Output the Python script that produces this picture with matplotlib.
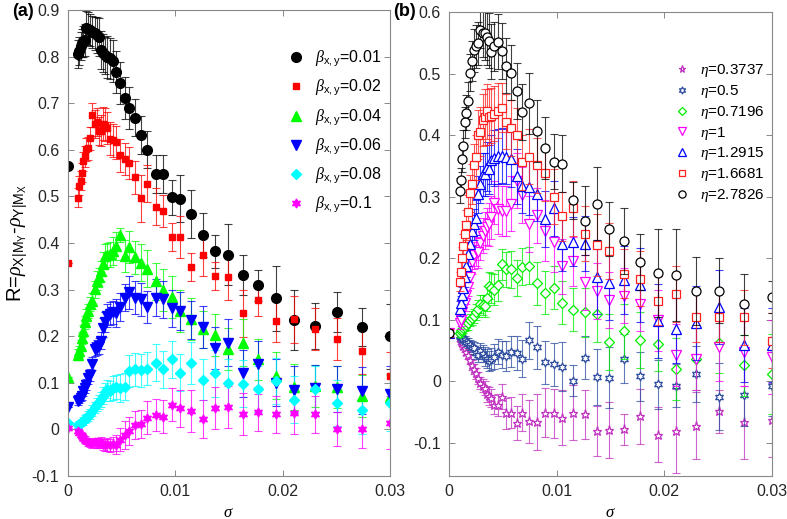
import matplotlib
matplotlib.use("Agg")
import matplotlib.pyplot as plt
from matplotlib.ticker import FuncFormatter
import numpy as np

plt.rcParams['font.family'] = ['Liberation Sans', 'DejaVu Sans']
plt.rcParams['mathtext.fontset'] = 'custom'
plt.rcParams['mathtext.rm'] = 'Liberation Sans'
plt.rcParams['mathtext.it'] = 'Liberation Serif:italic'
plt.rcParams['mathtext.bf'] = 'Liberation Sans:bold'
plt.rcParams['mathtext.sf'] = 'Liberation Sans'

# shared sigma grid
sigma = [0, 0.0010, 0.0011, 0.0012, 0.0013, 0.00145, 0.0016, 0.00175, 0.0019, 0.0021,
         0.0023, 0.0025, 0.0027, 0.0029, 0.0031, 0.0033, 0.0035, 0.0037, 0.0039, 0.0042,
         0.0045, 0.0049, 0.0053, 0.0057, 0.0063, 0.0068, 0.0074, 0.0082, 0.0089, 0.0097,
         0.0105, 0.0115, 0.0126, 0.0137, 0.0149, 0.0163, 0.0177, 0.0194, 0.0211, 0.0230,
         0.0251, 0.0274, 0.0300]

# ---- panel (a): beta_x,y ----
beta_labels = ['0.01', '0.02', '0.04', '0.06', '0.08', '0.1']

a_b001 = [0.566, 0.806, 0.812, 0.822, 0.830, 0.833, 0.836, 0.862, 0.860, 0.857,
          0.853, 0.850, 0.846, 0.842, 0.814, 0.808, 0.803, 0.800, 0.796, 0.790,
          0.767, 0.743, 0.712, 0.690, 0.669, 0.632, 0.600, 0.548, 0.548, 0.498,
          0.495, 0.462, 0.418, 0.382, 0.375, 0.331, 0.309, 0.281, 0.235, 0.222,
          0.251, 0.220, 0.200]
e_b001 = [0, 0.03, 0.03, 0.03, 0.03, 0.033, 0.035, 0.035, 0.035, 0.035,
          0.035, 0.035, 0.038, 0.04, 0.04, 0.04, 0.04, 0.045, 0.045, 0.045,
          0.045, 0.045, 0.045, 0.045, 0.04, 0.04, 0.04, 0.04, 0.04, 0.038,
          0.05, 0.052, 0.047, 0.036, 0.065, 0.043, 0.033, 0.07, 0.065, 0.05,
          0.043, 0.04, 0.07]

a_b002 = [0.357, 0.497, 0.523, 0.534, 0.551, 0.575, 0.586, 0.601, 0.603, 0.625,
          0.675, 0.656, 0.659, 0.641, 0.641, 0.656, 0.654, 0.647, 0.624, 0.620,
          0.616, 0.588, 0.580, 0.572, 0.541, 0.496, 0.527, 0.478, 0.469, 0.413,
          0.413, 0.348, 0.374, 0.330, 0.327, 0.249, 0.278, 0.233, 0.236, 0.215,
          0.194, 0.168, 0.115]
e_b002 = [0, 0.02, 0.02, 0.02, 0.02, 0.02, 0.022, 0.025, 0.025, 0.025,
          0.025, 0.03, 0.03, 0.03, 0.033, 0.035, 0.035, 0.035, 0.035, 0.035,
          0.035, 0.035, 0.035, 0.035, 0.035, 0.05, 0.04, 0.04, 0.035, 0.03,
          0.045, 0.03, 0.045, 0.03, 0.05, 0.05, 0.035, 0.045, 0.05, 0.045,
          0.045, 0.05, 0.05]

a_b004 = [0.113, 0.160, 0.168, 0.180, 0.197, 0.212, 0.230, 0.244, 0.255, 0.269,
          0.276, 0.301, 0.319, 0.326, 0.340, 0.355, 0.372, 0.374, 0.376, 0.383,
          0.394, 0.418, 0.372, 0.391, 0.369, 0.358, 0.345, 0.318, 0.300, 0.285,
          0.255, 0.237, 0.215, 0.203, 0.173, 0.186, 0.150, 0.115, 0.091, 0.093,
          0.091, 0.072, 0.069]
e_b004 = [0, 0.012, 0.012, 0.012, 0.013, 0.013, 0.014, 0.015, 0.015, 0.016,
          0.017, 0.018, 0.02, 0.02, 0.022, 0.025, 0.025, 0.025, 0.027, 0.03,
          0.03, 0.015, 0.035, 0.035, 0.035, 0.04, 0.04, 0.04, 0.045, 0.045,
          0.045, 0.045, 0.04, 0.045, 0.045, 0.05, 0.045, 0.05, 0.05, 0.045,
          0.045, 0.045, 0.05]

a_b006 = [0.047, 0.061, 0.064, 0.068, 0.071, 0.082, 0.089, 0.096, 0.110, 0.117,
          0.141, 0.172, 0.175, 0.179, 0.190, 0.218, 0.230, 0.244, 0.248, 0.251,
          0.250, 0.262, 0.283, 0.294, 0.283, 0.279, 0.263, 0.283, 0.279, 0.260,
          0.254, 0.235, 0.220, 0.175, 0.186, 0.120, 0.140, 0.100, 0.085, 0.088,
          0.087, 0.083, 0.077]
e_b006 = [0, 0.008, 0.008, 0.008, 0.009, 0.01, 0.01, 0.012, 0.012, 0.013,
          0.014, 0.015, 0.016, 0.017, 0.018, 0.02, 0.022, 0.025, 0.025, 0.025,
          0.03, 0.03, 0.03, 0.035, 0.035, 0.035, 0.035, 0.04, 0.04, 0.04,
          0.04, 0.04, 0.045, 0.045, 0.05, 0.05, 0.05, 0.05, 0.05, 0.05,
          0.05, 0.05, 0.06]

a_b008 = [0.014, 0.010, 0.012, 0.014, 0.016, 0.018, 0.022, 0.025, 0.029, 0.033,
          0.040, 0.047, 0.054, 0.058, 0.065, 0.072, 0.080, 0.087, 0.082, 0.089,
          0.091, 0.089, 0.092, 0.125, 0.129, 0.127, 0.130, 0.143, 0.129, 0.150,
          0.122, 0.143, 0.107, 0.120, 0.100, 0.098, 0.087, 0.104, 0.064, 0.087,
          0.057, 0.041, 0.057]
e_b008 = [0, 0.006, 0.006, 0.007, 0.007, 0.008, 0.008, 0.009, 0.01, 0.01,
          0.012, 0.012, 0.014, 0.015, 0.016, 0.018, 0.02, 0.02, 0.022, 0.025,
          0.025, 0.03, 0.03, 0.035, 0.035, 0.035, 0.035, 0.04, 0.04, 0.04,
          0.04, 0.045, 0.045, 0.05, 0.05, 0.05, 0.05, 0.05, 0.05, 0.05,
          0.05, 0.05, 0.06]

a_b01 = [0.003, -0.004, -0.007, -0.011, -0.014, -0.018, -0.022, -0.025, -0.027, -0.029,
         -0.030, -0.028, -0.029, -0.030, -0.029, -0.032, -0.033, -0.032, -0.034, -0.031,
         -0.033, -0.022, -0.012, -0.004, 0.009, 0.012, 0.025, 0.031, 0.027, 0.053,
         0.045, 0.040, 0.022, 0.046, 0.048, 0.033, 0.037, 0.032, 0.035, 0.032,
         0.001, 0.001, 0.014]
e_b01 = [0, 0.004, 0.005, 0.005, 0.006, 0.006, 0.007, 0.007, 0.008, 0.008,
         0.009, 0.01, 0.01, 0.011, 0.012, 0.012, 0.013, 0.014, 0.014, 0.015,
         0.02, 0.025, 0.03, 0.03, 0.03, 0.03, 0.035, 0.035, 0.035, 0.035,
         0.04, 0.045, 0.04, 0.045, 0.045, 0.045, 0.04, 0.04, 0.045, 0.04,
         0.037, 0.04, 0.057]

# ---- panel (b): eta ----
eta_labels = ['0.3737', '0.5', '0.7196', '1', '1.2915', '1.6681', '2.7826']

b_e03737 = [0.078, 0.070, 0.066, 0.063, 0.058, 0.054, 0.048, 0.043, 0.035, 0.027,
            0.020, 0.013, 0.005, -0.003, -0.007, -0.011, -0.020, -0.024, -0.027, -0.038,
            -0.038, -0.025, -0.052, -0.051, -0.068, -0.051, -0.065, -0.066, -0.051, -0.052,
            -0.059, -0.051, -0.054, -0.081, -0.079, -0.078, -0.057, -0.087, -0.081, -0.072,
            -0.049, -0.067, -0.063]
f_e03737 = [0.005, 0.005, 0.005, 0.005, 0.006, 0.006, 0.006, 0.007, 0.007, 0.008,
            0.008, 0.009, 0.01, 0.01, 0.011, 0.012, 0.013, 0.014, 0.015, 0.016,
            0.018, 0.02, 0.025, 0.025, 0.028, 0.03, 0.035, 0.045, 0.04, 0.04,
            0.045, 0.045, 0.04, 0.04, 0.045, 0.025, 0.045, 0.045, 0.068, 0.055,
            0.035, 0.06, 0.06]

b_e05 = [0.078, 0.074, 0.072, 0.070, 0.068, 0.067, 0.064, 0.062, 0.059, 0.056,
         0.054, 0.046, 0.043, 0.050, 0.045, 0.040, 0.037, 0.033, 0.036, 0.040,
         0.048, 0.043, 0.041, 0.048, 0.046, 0.037, 0.067, 0.055, 0.031, 0.028,
         0.024, 0.001, 0.038, 0.007, 0.006, 0.037, 0.008, -0.005, -0.007, 0.012,
         -0.025, -0.023, -0.007]
f_e05 = [0.005, 0.005, 0.005, 0.006, 0.006, 0.007, 0.007, 0.008, 0.008, 0.009,
         0.01, 0.01, 0.012, 0.013, 0.014, 0.015, 0.016, 0.017, 0.018, 0.02,
         0.02, 0.022, 0.025, 0.025, 0.028, 0.03, 0.03, 0.035, 0.035, 0.035,
         0.04, 0.025, 0.035, 0.045, 0.05, 0.04, 0.04, 0.04, 0.035, 0.045,
         0.055, 0.05, 0.05]

b_e07196 = [0.078, 0.078, 0.081, 0.084, 0.086, 0.089, 0.092, 0.094, 0.100, 0.103,
            0.106, 0.113, 0.118, 0.126, 0.124, 0.122, 0.135, 0.155, 0.152, 0.149,
            0.156, 0.190, 0.182, 0.182, 0.168, 0.186, 0.188, 0.159, 0.144, 0.152,
            0.128, 0.116, 0.112, 0.109, 0.064, 0.081, 0.067, 0.061, 0.020, 0.036,
            0.063, 0.026, 0.012]
f_e07196 = [0.005, 0.006, 0.006, 0.007, 0.008, 0.008, 0.009, 0.01, 0.01, 0.011,
            0.012, 0.013, 0.014, 0.015, 0.016, 0.018, 0.02, 0.022, 0.024, 0.025,
            0.025, 0.025, 0.028, 0.03, 0.03, 0.03, 0.03, 0.035, 0.035, 0.035,
            0.035, 0.035, 0.04, 0.045, 0.045, 0.045, 0.045, 0.045, 0.05, 0.05,
            0.05, 0.05, 0.065]

b_e1 = [0.078, 0.095, 0.100, 0.113, 0.120, 0.127, 0.140, 0.154, 0.170, 0.194,
        0.205, 0.213, 0.210, 0.225, 0.237, 0.245, 0.251, 0.255, 0.267, 0.290,
        0.280, 0.277, 0.277, 0.289, 0.326, 0.303, 0.256, 0.270, 0.245, 0.227,
        0.187, 0.195, 0.161, 0.147, 0.132, 0.139, 0.126, 0.099, 0.043, 0.036,
        0.056, 0.048, 0.040]
f_e1 = [0.005, 0.01, 0.01, 0.012, 0.012, 0.013, 0.014, 0.016, 0.018, 0.02,
        0.022, 0.025, 0.025, 0.027, 0.028, 0.03, 0.03, 0.035, 0.035, 0.035,
        0.04, 0.04, 0.04, 0.045, 0.045, 0.045, 0.045, 0.045, 0.05, 0.05,
        0.045, 0.04, 0.045, 0.045, 0.045, 0.045, 0.045, 0.05, 0.05, 0.05,
        0.055, 0.055, 0.06]

b_e12915 = [0.078, 0.118, 0.127, 0.140, 0.152, 0.170, 0.188, 0.207, 0.223, 0.245,
            0.255, 0.266, 0.304, 0.320, 0.337, 0.337, 0.349, 0.345, 0.360, 0.363,
            0.366, 0.367, 0.365, 0.361, 0.333, 0.318, 0.316, 0.305, 0.264, 0.281,
            0.224, 0.227, 0.224, 0.170, 0.159, 0.165, 0.156, 0.098, 0.085, 0.095,
            0.121, 0.059, 0.059]
f_e12915 = [0.005, 0.012, 0.012, 0.014, 0.015, 0.016, 0.018, 0.02, 0.022, 0.025,
            0.025, 0.028, 0.03, 0.03, 0.035, 0.035, 0.04, 0.04, 0.04, 0.045,
            0.045, 0.045, 0.045, 0.045, 0.045, 0.045, 0.045, 0.045, 0.045, 0.045,
            0.045, 0.04, 0.045, 0.06, 0.06, 0.055, 0.06, 0.06, 0.055, 0.06,
            0.06, 0.06, 0.06]

b_e16681 = [0.078, 0.162, 0.178, 0.201, 0.220, 0.239, 0.254, 0.276, 0.306, 0.321,
            0.351, 0.364, 0.401, 0.406, 0.425, 0.430, 0.439, 0.430, 0.432, 0.435,
            0.440, 0.445, 0.422, 0.412, 0.400, 0.356, 0.365, 0.351, 0.338, 0.300,
            0.268, 0.281, 0.240, 0.222, 0.212, 0.175, 0.167, 0.131, 0.142, 0.104,
            0.104, 0.104, 0.066]
f_e16681 = [0.005, 0.015, 0.016, 0.018, 0.02, 0.022, 0.025, 0.027, 0.03, 0.032,
            0.035, 0.037, 0.04, 0.04, 0.042, 0.045, 0.045, 0.045, 0.045, 0.045,
            0.045, 0.04, 0.045, 0.045, 0.045, 0.045, 0.045, 0.045, 0.045, 0.045,
            0.04, 0.045, 0.045, 0.05, 0.045, 0.04, 0.045, 0.04, 0.045, 0.04,
            0.04, 0.045, 0.045]

b_e27826 = [0.078, 0.310, 0.327, 0.362, 0.383, 0.421, 0.437, 0.456, 0.502, 0.521,
            0.538, 0.545, 0.550, 0.572, 0.567, 0.567, 0.560, 0.554, 0.536, 0.545,
            0.552, 0.537, 0.513, 0.502, 0.472, 0.438, 0.452, 0.407, 0.379, 0.357,
            0.354, 0.294, 0.261, 0.289, 0.247, 0.228, 0.194, 0.176, 0.173, 0.147,
            0.147, 0.125, 0.137]
f_e27826 = [0.005, 0.02, 0.02, 0.022, 0.025, 0.025, 0.028, 0.03, 0.03, 0.032,
            0.035, 0.035, 0.035, 0.03, 0.04, 0.045, 0.045, 0.045, 0.045, 0.04,
            0.045, 0.045, 0.045, 0.045, 0.045, 0.045, 0.05, 0.05, 0.05, 0.045,
            0.047, 0.03, 0.056, 0.06, 0.044, 0.054, 0.046, 0.072, 0.075, 0.055,
            0.053, 0.05, 0.026]

# ---- figure ----
fig = plt.figure(figsize=(7.87, 5.19), dpi=100)
axA = fig.add_axes([0.0860, 0.0829, 0.4095, 0.8978])
axB = fig.add_axes([0.5709, 0.0829, 0.4097, 0.8934])

star6 = (6, 1, 0)
a_series = [
    (a_b001, e_b001, 'k', 'o', 7),
    (a_b002, e_b002, '#ff0000', 's', 5),
    (a_b004, e_b004, '#00ff00', '^', 7),
    (a_b006, e_b006, '#0000ff', 'v', 7),
    (a_b008, e_b008, '#00ffff', 'D', 5),
    (a_b01, e_b01, '#ff00ff', star6, 6.5),
]
for (y, e, c, m, ms), lab in zip(a_series, beta_labels):
    axA.errorbar(sigma, y, yerr=e, fmt='none', ecolor=c, elinewidth=0.8,
                 capsize=3, capthick=0.8, alpha=0.75)
for (y, e, c, m, ms), lab in zip(a_series, beta_labels):
    axA.plot(sigma, y, linestyle='none', marker=m, ms=ms, color=c, mec=c,
             label=r'$\beta_{\mathrm{x,y}}$=' + lab)

b_series = [
    (b_e03737, f_e03737, '#c030c0', '*', 6.5),
    (b_e05, f_e05, '#2f4da0', star6, 6.5),
    (b_e07196, f_e07196, '#00ee00', 'D', 5),
    (b_e1, f_e1, '#ff00ff', 'v', 6.5),
    (b_e12915, f_e12915, '#0000ff', '^', 6.5),
    (b_e16681, f_e16681, '#ff2020', 's', 5.5),
    (b_e27826, f_e27826, 'k', 'o', 6.5),
]
for (y, e, c, m, ms), lab in zip(b_series, eta_labels):
    axB.errorbar(sigma, y, yerr=e, fmt='none', ecolor=c, elinewidth=0.8,
                 capsize=3, capthick=0.8, alpha=0.75)
    axB.plot(sigma, y, linestyle='none', marker=m, ms=ms, mfc='white', mec=c,
             mew=0.9, label=r'$\eta$=' + lab)

fmt = FuncFormatter(lambda v, p: ('%g' % round(v, 3)))
for ax in (axA, axB):
    ax.set_xlim(0, 0.03)
    ax.set_xticks([0, 0.01, 0.02, 0.03])
    ax.xaxis.set_major_formatter(fmt)
    ax.yaxis.set_major_formatter(fmt)
    ax.tick_params(direction='in', top=True, right=True, length=4, width=0.7,
                   labelsize=11.5, colors='#888888', labelcolor='#262626', pad=6)
    for s in ax.spines.values():
        s.set_color('#888888')
        s.set_linewidth(0.8)
    ax.set_xlabel(r'$\sigma$', fontsize=12, labelpad=4)

axA.set_ylim(-0.1, 0.9)
axA.set_yticks(np.arange(-0.1, 0.91, 0.1))
axB.set_ylim(-0.154, 0.6)
axB.set_yticks(np.arange(-0.1, 0.61, 0.1))

axA.set_ylabel(r'R=$\rho_{\mathrm{X|M_Y}}$-$\rho_{\mathrm{Y|M_X}}$', fontsize=14.5, labelpad=1)

axA.legend(loc='upper right', bbox_to_anchor=(1.02, 0.947), frameon=False,
           fontsize=11.5, handletextpad=0.6, labelspacing=0.55, handlelength=1.2)
axB.legend(loc='upper right', bbox_to_anchor=(1.02, 0.922), frameon=False,
           fontsize=11, handletextpad=0.6, labelspacing=0.25, handlelength=1.2,
           markerscale=0.8)

fig.text(0.015, 0.978, '(a)', fontsize=13, fontweight='bold', va='center')
fig.text(0.500, 0.978, '(b)', fontsize=13, fontweight='bold', va='center')

fig.savefig('out.png', dpi=100)
